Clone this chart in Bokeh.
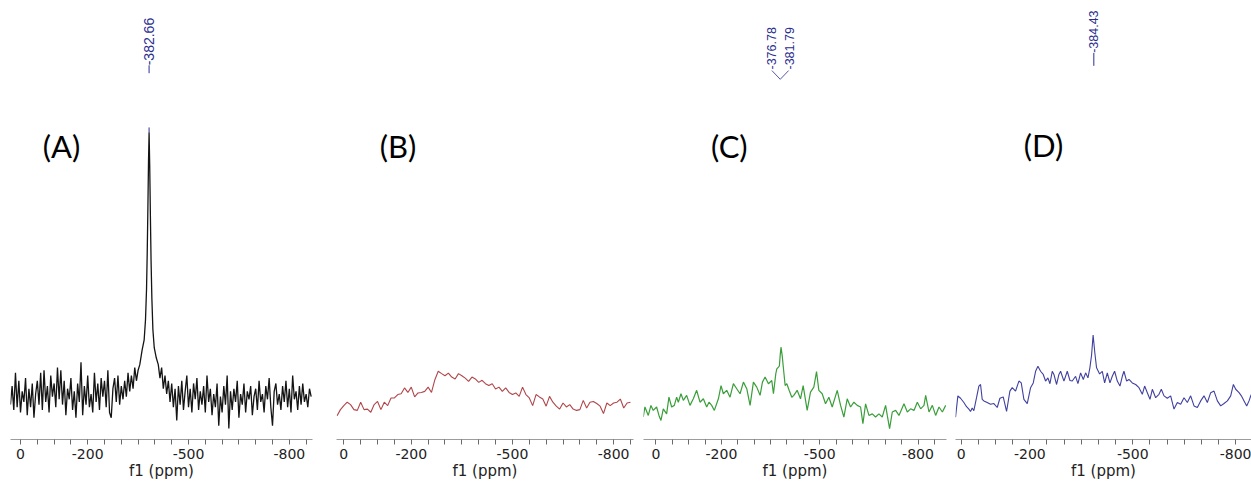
import math

from bokeh.embed import file_html
from bokeh.layouts import row
from bokeh.models import FixedTicker, Label, Range1d
from bokeh.plotting import figure
from bokeh.resources import INLINE

# ---------------------------------------------------------------------------
# Spectra (chemical shift in ppm, intensity in arbitrary units)
# ---------------------------------------------------------------------------

# (A) sharp resonance on a noisy baseline
a_left_ppm = list(range(30, -351, -5))
a_left_int = [-3, 4, -5, 9, -4, 6, -6, 2, -2, 7,
              -7, 3, -4, 5, -8, 1, 6, -3, 9, -5,
              10, -2, 4, -6, 8, 0, 5, -4, 11, -1,
              10, -3, 6, -7, 3, -1, 7, -5, 2, -8,
              5, -2, 13, -7, 4, -3, 8, -4, 1, -6,
              9, -2, 5, -5, 7, 0, 6, -4, 10, -6,
              -8, 3, 7, -2, 8, -3, 4, -1, 6, 0,
              9, 2, 8, 3, 11, 6, 10]
a_peak_ppm = [-355, -362, -368, -372, -375, -377, -379, -381, -382.66,
              -384.5, -386.5, -388.5, -391, -394, -398, -404, -410]
a_peak_int = [12.1, 17.7, 21.5, 29.1, 40.4, 53.6, 70.6, 89.4, 100.0,
              87.6, 68.7, 51.7, 36.9, 25.3, 18.5, 14.7, 12.1]
a_right_ppm = list(range(-415, -866, -5))
a_right_int = [7, 11, 3, 8, 1, 6, -2, 5, -4, 3,
               -9, 4, -3, 6, -5, 2, 8, -4, 3, -6,
               5, -1, 7, -5, 2, -3, 4, -6, 8, -2,
               3, -7, 1, -4, 5, -11, 0, -6, 4, -3,
               8, -12, 2, -5, 3, -2, 6, -8, 1, -3,
               5, -6, 2, -1, 4, -7, 0, 3, -5, 6,
               -2, 1, -6, 4, -1, 7, -4, -11, 2, 5,
               -3, 1, -5, 4, -2, 6, -4, 3, -6, 8,
               -1, 2, -5, 4, -3, 5, -2, 1, -4, 3,
               0]

# (B) broad hump, no sharp line
b_ppm = list(range(20, -851, -10))
b_int = [-7.2, -4.9, -3.4, -2.1, -3.0, -4.9, -5.2, -2.1, -4.9, -4.7,
         -5.9, -3.0, -1.8, -4.9, -2.1, -3.4, -0.5, -0.5, 0.8, 1.1,
         3.3, 1.6, 3.6, -0.1, 1.4, 1.6, 2.0, 3.6, 1.6, 6.4,
         9.6, 8.7, 7.9, 8.9, 7.4, 6.7, 8.7, 7.9, 7.0, 5.8,
         7.4, 6.7, 5.4, 6.2, 4.9, 4.2, 4.9, 2.9, 3.6, 2.0,
         3.3, 1.6, 0.8, 1.4, 0.1, 3.6, 0.8, -0.5, -3.4, 0.8,
         -0.1, -0.9, -3.6, 0.1, -2.1, -3.6, -4.7, -2.4, -3.9, -3.0,
         -4.7, -5.2, -4.9, -1.4, -4.3, -2.1, -1.8, -2.6, -3.6, -6.4,
         -2.4, -3.4, -2.4, -2.1, -0.9, -4.3, -2.4, -2.1]

# (C) weak doublet on a broad hump
c_ppm = [38.7, 33.6, 23.4, 15.3, 8.2, -2.0, -9.2, -15.3, -22.4, -32.6,
         -39.7, -47.9, -56.0, -63.2, -68.3, -76.4, -83.6, -93.7, -103.9, -114.1,
         -124.3, -134.5, -144.7, -154.9, -162.0, -170.2, -178.3, -190.6, -198.7, -205.8,
         -216.0, -226.2, -236.4, -246.6, -256.8, -267.0, -277.2, -287.4, -297.5, -307.7,
         -317.9, -325.1, -333.2, -343.4, -353.6, -358.7, -365.8, -369.0, -374.0, -376.78,
         -379.5, -381.79, -385.3, -390.3, -394.4, -399.5, -406.6, -414.7, -420.9, -431.1,
         -441.3, -449.4, -461.7, -471.8, -482.0, -490.2, -497.3, -507.5, -517.7, -527.9,
         -538.1, -553.4, -563.6, -573.7, -583.9, -594.1, -604.3, -614.5, -624.7, -631.8,
         -640.0, -650.2, -660.4, -670.5, -680.7, -690.9, -701.1, -706.2, -713.3, -721.5,
         -731.7, -741.9, -757.2, -767.4, -777.5, -787.7, -797.9, -808.1, -818.3, -823.4,
         -833.6, -843.8, -853.9, -864.1, -874.4, -884.5]
c_int = [-7.7, -3.9, -7.1, -3.3, -5.2, -3.9, -7.1, -9.0, -4.6, -6.5,
         -0.2, -3.9, -3.3, -0.2, -2.1, 1.1, -1.4, 0.5, -3.3, -0.8,
         2.4, -2.1, -0.8, -3.9, -2.1, -3.3, -5.2, -0.8, 4.2, 1.1,
         2.4, -0.2, 4.9, 3.0, 1.1, 5.5, 3.0, -3.3, 5.5, 3.6,
         0.5, 5.5, 7.4, 4.9, 6.1, 1.1, 8.6, 10.5, 11.2, 11.6,
         16.0, 18.7, 15.6, 9.3, 4.2, 4.9, 2.4, -0.2, 0.5, 2.4,
         -0.8, 4.2, -5.2, 1.7, 3.6, 9.5, 2.4, 1.1, -2.7, -0.2,
         -3.9, 2.4, -3.3, -7.7, -0.8, -3.9, -2.1, -3.3, -3.9, -10.2,
         -2.7, -7.1, -6.5, -7.7, -6.5, -7.7, -3.3, -7.1, -12.1, -5.8,
         -5.2, -7.1, -2.7, -5.8, -4.6, -5.2, -2.1, -4.6, -3.3, 0.5,
         -5.8, -3.3, -7.1, -3.9, -5.8, -3.3]

# (D) single line on a broad hump
d_ppm = [16.5, 9.7, 1.9, -7.8, -15.6, -22.4, -27.2, -32.1, -36.9, -44.7,
         -51.5, -56.4, -61.2, -66.1, -75.8, -85.5, -95.3, -105.0, -112.8, -122.5,
         -132.2, -141.9, -148.7, -158.4, -168.2, -175.0, -182.7, -192.5, -202.2, -210.0,
         -216.8, -223.6, -231.3, -239.1, -245.9, -252.7, -258.6, -265.4, -270.2, -278.0,
         -284.8, -289.7, -299.4, -309.1, -316.9, -323.7, -333.4, -340.2, -348.0, -355.8,
         -362.6, -369.4, -375.0, -380.0, -384.43, -389.5, -394.5, -403.4, -411.2, -418.0,
         -425.8, -433.5, -440.3, -447.1, -454.9, -462.7, -469.5, -474.3, -482.1, -488.9,
         -498.6, -508.4, -518.1, -527.8, -534.6, -542.4, -550.2, -557.0, -566.7, -576.4,
         -583.2, -591.0, -600.7, -610.4, -620.1, -629.9, -639.6, -649.3, -659.0, -668.7,
         -678.5, -688.2, -697.9, -707.6, -717.3, -727.1, -736.8, -746.5, -756.2, -765.9,
         -775.7, -785.4, -793.2, -800.0, -809.7, -816.5, -824.3, -832.0, -838.8, -843.7,
         -848.0]
d_int = [-7.8, 0.3, -0.6, -2.2, -3.8, -4.7, -5.6, -4.3, -5.3, -0.4,
         4.0, 4.6, -1.0, -1.6, -2.2, -2.9, -2.6, -4.1, -0.6, -0.1,
         -5.6, 2.1, 3.4, 2.1, 5.9, 5.2, -1.0, -2.6, 3.4, 5.2,
         9.6, 11.5, 9.6, 8.4, 5.9, 7.1, 4.9, 9.6, 8.4, 4.6,
         8.4, 9.6, 5.9, 9.6, 6.1, 5.9, 7.7, 4.9, 9.0, 6.5,
         9.0, 7.1, 10.9, 15.8, 23.3, 16.5, 10.9, 8.6, 9.6, 5.2,
         9.0, 5.2, 7.7, 9.6, 5.9, 4.0, 7.7, 9.6, 5.9, 6.5,
         5.2, 4.6, 3.4, 0.9, 4.0, 1.5, -1.0, 2.8, -0.4, 0.9,
         2.8, 0.3, -0.6, 0.3, -4.7, -2.2, -2.9, -0.4, -2.2, 0.3,
         -3.5, -4.1, -1.6, 0.3, -2.2, 1.5, 2.1, -1.6, -3.5, -2.6,
         -1.6, 0.3, 4.6, 2.8, 1.5, 0.3, -1.6, -3.5, -1.6, 0.3,
         1.5]

# Panel captions and picked peaks
panel_titles = ["(A)", "(B)", "(C)", "(D)"]
a_peak_labels = ["-382.66"]
c_peak_labels = ["-376.78", "-381.79"]
d_peak_labels = ["-384.43"]

# Axis ticks (every 100 ppm, minor every 50 ppm) and the labelled subset
tick_values = [0, -100, -200, -300, -400, -500, -600, -700, -800]
minor_tick_values = [-50, -150, -250, -350, -450, -550, -650, -750, -850]
tick_labels = {0: "0", -100: "", -200: "-200", -300: "", -400: "",
               -500: "-500", -600: "", -700: "", -800: "-800"}
axis_title = "f1 (ppm)"

# ---------------------------------------------------------------------------
Y_LOW, Y_HIGH = -16.2, 149.8
PEAK_BLUE = "#2b2f8f"
AXIS_FONT = "DejaVu Sans"
PEAK_FONT = "Liberation Sans"


def make_panel(width, border_left, border_right, border_bottom, x_start, x_end):
    p = figure(width=width, height=487,
               x_range=Range1d(x_start, x_end), y_range=Range1d(Y_LOW, Y_HIGH),
               output_backend="svg", toolbar_location=None, tools="",
               y_axis_location=None,
               min_border_left=border_left, min_border_right=border_right,
               min_border_top=0, min_border_bottom=border_bottom)
    p.outline_line_color = None
    p.grid.visible = False
    p.background_fill_color = "white"
    p.border_fill_color = "white"

    ax = p.xaxis[0]
    ax.ticker = FixedTicker(ticks=tick_values, minor_ticks=minor_tick_values)
    ax.major_label_overrides = tick_labels
    ax.axis_line_color = "#9c9c9c"
    ax.axis_line_width = 1
    ax.major_tick_line_color = "#6a6a6a"
    ax.minor_tick_line_color = "#6a6a6a"
    ax.major_tick_in = 0
    ax.major_tick_out = 5
    ax.minor_tick_in = 0
    ax.minor_tick_out = 5
    ax.major_label_standoff = 4
    ax.major_label_text_font = AXIS_FONT
    ax.major_label_text_font_size = "14px"
    ax.major_label_text_color = "#222222"
    ax.axis_label = axis_title
    ax.axis_label_standoff = 0
    ax.axis_label_text_font = AXIS_FONT
    ax.axis_label_text_font_size = "15px"
    ax.axis_label_text_font_style = "normal"
    ax.axis_label_text_color = "#222222"
    return p


def add_title(p, text, x, y):
    p.add_layout(Label(x=x, y=y, text=text, text_align="center",
                       text_baseline="middle", text_font="Lato",
                       text_font_size="31px", text_color="black"))


def add_peak_text(p, text, x, y, size):
    p.add_layout(Label(x=x, y=y, text=text, angle=math.pi / 2,
                       text_align="left", text_baseline="middle",
                       text_font=PEAK_FONT, text_font_size=size,
                       text_color=PEAK_BLUE))


# ---- (A) ------------------------------------------------------------------
pa = make_panel(320, 10, 8, 47, 29.8, -869)
pa.line(a_left_ppm + a_peak_ppm + a_right_ppm,
        a_left_int + a_peak_int + a_right_int,
        line_color="#141414", line_width=1.3)
add_title(pa, panel_titles[0], -122, 94.7)
add_peak_text(pa, a_peak_labels[0], a_peak_ppm[8], 125.3, "14px")
pa.segment(x0=[a_peak_ppm[8]] * 2, y0=[122.3, 100.0],
           x1=[a_peak_ppm[8]] * 2, y1=[125.3, 101.8],
           line_color=PEAK_BLUE, line_width=1)

# ---- (B) ------------------------------------------------------------------
pb = make_panel(318, 16, 5, 47, 21.7, -859)
pb.line(b_ppm, b_int, line_color="#b0464a", line_width=1.1)
add_title(pb, panel_titles[1], -160.6, 94.7)

# ---- (C) ------------------------------------------------------------------
pc = make_panel(312, 5, 4, 48, 38, -887)
pc.line(c_ppm, c_int, line_color="#3a9e3a", line_width=1.2)
add_title(pc, panel_titles[2], -224, 94.6)
c_text_x = [-352, -407]
for lbl, tx in zip(c_peak_labels, c_text_x):
    add_peak_text(pc, lbl, tx, 123.7, "12.5px")
c_join = (c_text_x[0] + c_text_x[1]) / 2
pc.multi_line(xs=[[c_text_x[0] - 2, c_join], [c_text_x[1] + 2, c_join]],
              ys=[[123.3, 120.0], [123.3, 120.0]],
              line_color=PEAK_BLUE, line_width=0.8)

# ---- (D) ------------------------------------------------------------------
pd_ = make_panel(301, 5, 0, 43, 16.6, -846)
pd_.line(d_ppm, d_int, line_color="#4040a0", line_width=1.1)
add_title(pd_, panel_titles[3], -240, 95.2)
d_label_x = -386.5
add_peak_text(pd_, d_peak_labels[0], d_label_x, 130.0, "12.5px")
pd_.segment(x0=[d_label_x], y0=[125.1], x1=[d_label_x], y1=[130.0],
            line_color=PEAK_BLUE, line_width=1)

layout = row(pa, pb, pc, pd_)
open("out.html", "w").write(file_html(layout, INLINE))
